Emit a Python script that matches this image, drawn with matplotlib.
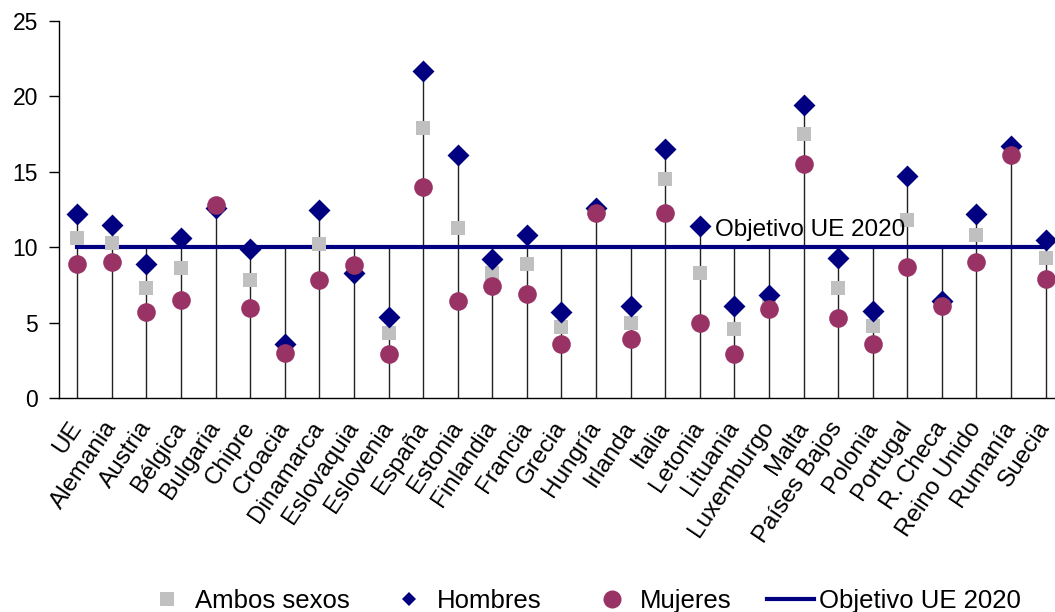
import matplotlib
matplotlib.use("Agg")
import matplotlib.pyplot as plt
import matplotlib.transforms as mtransforms
from matplotlib.lines import Line2D

plt.rcParams['font.family'] = ['Liberation Sans', 'DejaVu Sans']

paises = ["UE", "Alemania", "Austria", "Bélgica", "Bulgaria", "Chipre", "Croacia",
          "Dinamarca", "Eslovaquia", "Eslovenia", "España", "Estonia", "Finlandia",
          "Francia", "Grecia", "Hungría", "Irlanda", "Italia", "Letonia", "Lituania",
          "Luxemburgo", "Malta", "Países Bajos", "Polonia", "Portugal", "R. Checa",
          "Reino Unido", "Rumanía", "Suecia"]

ambos = [10.6, 10.3, 7.3, 8.6, 12.7, 7.8, 3.3, 10.2, 8.5, 4.3, 17.9, 11.3, 8.3,
         8.9, 4.7, 12.4, 5.0, 14.5, 8.3, 4.6, 6.3, 17.5, 7.3, 4.8, 11.8, 6.2,
         10.8, 16.4, 9.3]
hombres = [12.2, 11.5, 8.9, 10.6, 12.6, 9.9, 3.6, 12.5, 8.3, 5.4, 21.7, 16.1, 9.2,
           10.8, 5.7, 12.6, 6.1, 16.5, 11.4, 6.1, 6.8, 19.4, 9.3, 5.8, 14.7, 6.4,
           12.2, 16.7, 10.5]
mujeres = [8.9, 9.0, 5.7, 6.5, 12.8, 6.0, 3.0, 7.8, 8.8, 2.9, 14.0, 6.4, 7.4,
           6.9, 3.6, 12.3, 3.9, 12.3, 5.0, 2.9, 5.9, 15.5, 5.3, 3.6, 8.7, 6.1,
           9.0, 16.1, 7.9]
objetivo = 10

GRIS = '#C0C0C0'
AZUL = '#000080'
GRANATE = '#993366'

fig = plt.figure(figsize=(10.55, 6.12), dpi=100)
ax = fig.add_axes([59/1055, 1-398/612, 1-59/1055, (398-21)/612])

x = list(range(len(paises)))
tops = [max(a, h, m, objetivo) for a, h, m in zip(ambos, hombres, mujeres)]
ax.vlines(x, 0, tops, color='#222222', lw=1.0, zorder=1)
ax.plot([x[0], x[-1]], [objetivo, objetivo], color=AZUL, lw=3.0, zorder=2)

ax.scatter(x, ambos, marker='s', s=105, color=GRIS, zorder=3, clip_on=False, linewidths=0)
ax.scatter(x, hombres, marker='D', s=125, color=AZUL, zorder=4, clip_on=False, linewidths=0)
ax.scatter(x, mujeres, marker='o', s=180, color=GRANATE, zorder=5, clip_on=False, linewidths=0)

ax.text(18.43, 11.15, "Objetivo UE 2020", fontsize=17.5, va='center', ha='left', zorder=6)

ax.set_xlim(-0.53, 28.27)
ax.set_ylim(0, 25)
ax.set_yticks([0, 5, 10, 15, 20, 25])
ax.tick_params(axis='y', labelsize=16.5, length=7, width=1, direction='out', pad=8)
ax.set_xticks(x)
ax.set_xticklabels(paises, rotation=56, ha='right', rotation_mode='anchor', fontsize=17.5)
ax.tick_params(axis='x', length=0, pad=14)
offset = mtransforms.ScaledTranslation(-9/100, 0, fig.dpi_scale_trans)
for lab in ax.get_xticklabels():
    lab.set_transform(lab.get_transform() + offset)
for s in ['top', 'right']:
    ax.spines[s].set_visible(False)
ax.spines['left'].set_linewidth(1.0)
ax.spines['bottom'].set_linewidth(1.0)

handles = [
    Line2D([], [], marker='s', color=GRIS, ls='none', markersize=10, markeredgewidth=0),
    Line2D([], [], marker='D', color=AZUL, ls='none', markersize=7, markeredgewidth=0),
    Line2D([], [], marker='o', color=GRANATE, ls='none', markersize=13, markeredgewidth=0),
    Line2D([], [], color=AZUL, lw=3.0),
]
labels = ["Ambos sexos", "Hombres", "Mujeres", "Objetivo UE 2020"]
starts = [143, 385, 588, 767]
fs_leg = 18.5
hl = 47 / (fs_leg * 100 / 72)
tp = 5 / (fs_leg * 100 / 72)
for h, l, xs in zip(handles, labels, starts):
    fig.legend([h], [l], loc='center left', bbox_to_anchor=(xs/1055, 1-601/612),
               frameon=False, fontsize=fs_leg, handlelength=hl, handletextpad=tp,
               borderpad=0, borderaxespad=0)

fig.savefig("out.png", dpi=100)
